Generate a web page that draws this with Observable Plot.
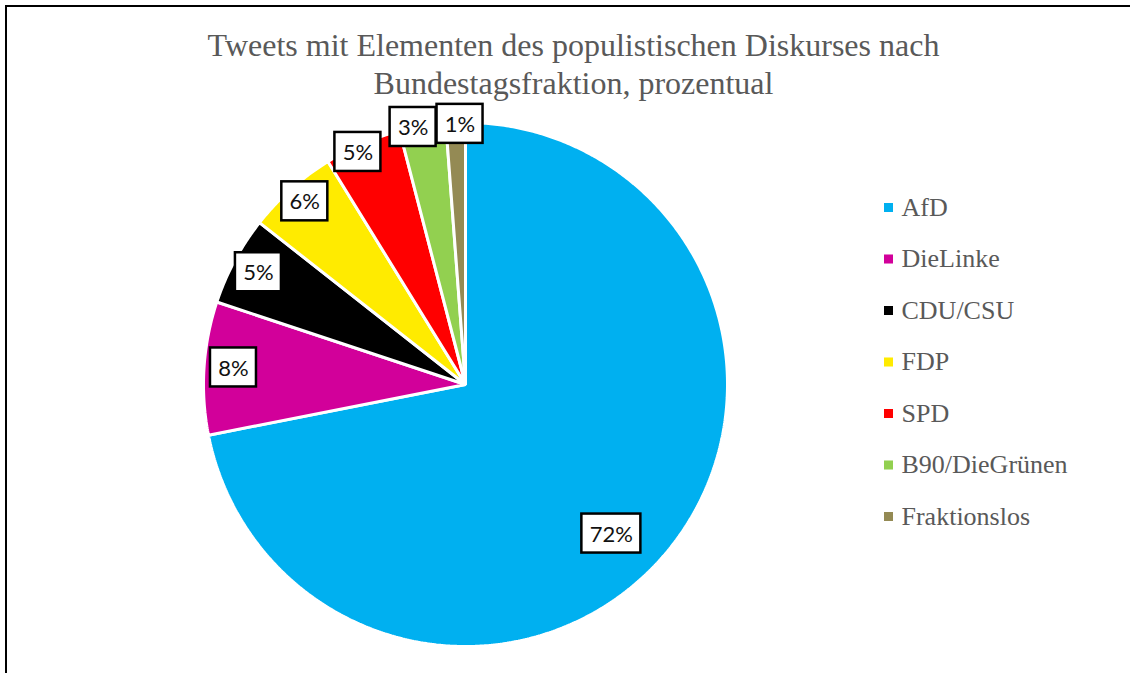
<!DOCTYPE html>
<html><head><meta charset="utf-8">
<script src="https://cdn.jsdelivr.net/npm/d3@7"></script>
<script src="https://cdn.jsdelivr.net/npm/@observablehq/plot@0.6"></script>
<style>
html,body{margin:0;padding:0;background:#fff;}
#wrap{position:relative;width:1130px;height:673px;overflow:hidden;}
#wrap svg{position:absolute;left:0;top:0;}
#frame{position:absolute;left:5px;top:5px;width:1200px;height:800px;border-left:2px solid #000;border-top:2px solid #000;z-index:2;pointer-events:none;}
</style></head><body><div id="wrap"></div>
<script>
// ---- data ----
const titleLines = ["Tweets mit Elementen des populistischen Diskurses nach", "Bundestagsfraktion, prozentual"];
const parties = ["AfD", "DieLinke", "CDU/CSU", "FDP", "SPD", "B90/DieGrünen", "Fraktionslos"];
const shares = [71.9, 8.2, 5.5, 5.6, 4.75, 2.85, 1.2];
const labels = ["72%", "8%", "5%", "6%", "5%", "3%", "1%"];
const colors = ["#00B0F0", "#D2009A", "#000000", "#FFEB00", "#FF0000", "#92D050", "#948A54"];

// ---- layout (pixels) ----
const W = 1130, H = 673, CX = 465, CY = 384, R = 262;
const labelRadius = [0.796, 0.888, 0.899, 0.93, 0.978, 1.003, 0.995];
const labelAngleShift = [6.2, 0.6, 0.2, 0.5, -1.7, -2.05, 0.96];
const boxH = 39;
const legendX = 888, legendTextX = 901, legendY0 = 207, legendStep = 51.5;
const titleX = 573, titleBaselines = [55, 93];

const px2x = px => (px - CX) / R;
const py2y = py => (CY - py) / R;

// ---- slices from data ----
const total = d3.sum(shares);
const slicePts = [];
const labelRows = [];
let acc = 0;
parties.forEach((p, i) => {
  const a0 = acc / total * 360, a1 = (acc + shares[i]) / total * 360;
  acc += shares[i];
  slicePts.push({party: p, x: 0, y: 0});
  const n = Math.max(2, Math.ceil((a1 - a0) / 0.5));
  for (let k = 0; k <= n; k++) {
    const a = (a0 + (a1 - a0) * k / n) * Math.PI / 180;
    slicePts.push({party: p, x: Math.sin(a), y: Math.cos(a)});
  }
  const am = ((a0 + a1) / 2 + labelAngleShift[i]) * Math.PI / 180;
  const r = labelRadius[i];
  const w = 20 + 13 * labels[i].length;
  labelRows.push({party: p, label: labels[i], x: r * Math.sin(am), y: r * Math.cos(am), hw: w / 2 / R, hh: boxH / 2 / R});
});

const legendRows = parties.map((p, i) => ({party: p, x: px2x(legendX), tx: px2x(legendTextX), y: py2y(legendY0 + i * legendStep)}));
const titleRows = titleLines.map((t, i) => ({text: t, x: px2x(titleX), y: py2y(titleBaselines[i])}));

const chart = Plot.plot({
  width: W, height: H, margin: 0,
  x: {domain: [px2x(0), px2x(W)], axis: null},
  y: {domain: [py2y(H), py2y(0)], axis: null},
  color: {domain: parties, range: colors},
  style: {background: "white"},
  marks: [
    Plot.line(slicePts, {x: "x", y: "y", z: "party", fill: "party", stroke: "white", strokeWidth: 3, strokeLinejoin: "miter", curve: "linear-closed"}),
    Plot.rect(labelRows, {x1: d => d.x - d.hw, x2: d => d.x + d.hw, y1: d => d.y - d.hh, y2: d => d.y + d.hh, fill: "white", stroke: "black", strokeWidth: 2.5}),
    Plot.text(labelRows, {x: "x", y: "y", dy: 1, text: "label", fontSize: 22, fontFamily: "Lato, 'Open Sans', sans-serif", fill: "#111", lineAnchor: "middle"}),
    Plot.dot(legendRows, {x: "x", y: "y", fill: "party", symbol: "square", r: 5.1, stroke: null}),
    Plot.text(legendRows, {x: "tx", y: "y", text: "party", textAnchor: "start", lineAnchor: "middle", fontSize: 26, fontFamily: "'Liberation Serif', 'Times New Roman', serif", fill: "#595959"}),
    Plot.text(titleRows, {x: "x", y: "y", text: "text", lineAnchor: "bottom", fontSize: 32, fontFamily: "'Liberation Serif', 'Times New Roman', serif", fill: "#595959"})
  ]
});
const wrap = document.getElementById("wrap");
wrap.appendChild(chart);
const frame = document.createElement("div");
frame.id = "frame";
wrap.appendChild(frame);
</script>
</body></html>
